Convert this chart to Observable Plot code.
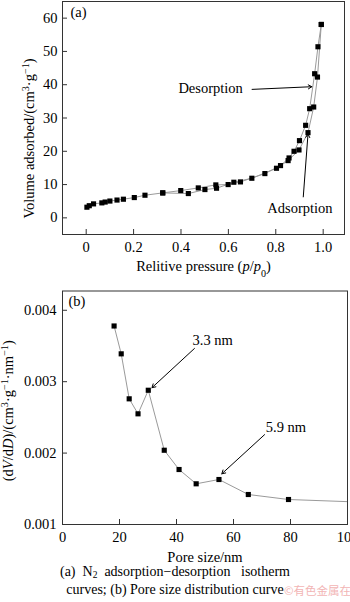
<!DOCTYPE html>
<html><head><meta charset="utf-8">
<script src="https://cdn.jsdelivr.net/npm/d3@7"></script>
<script src="https://cdn.jsdelivr.net/npm/@observablehq/plot@0.6"></script>
<style>
body{margin:0;background:#fff;width:350px;font-family:"Liberation Serif",serif;}
#wrap{position:relative;width:350px;}
#cap{font-size:14px;line-height:18px;text-align:center;white-space:pre;color:#000;margin-top:-1px;}
#cap sub{font-size:9.5px;vertical-align:-2px;line-height:0;}
#wm{position:absolute;left:284px;top:582px;font-family:"Noto Sans CJK SC",sans-serif;font-size:11.5px;color:#f2b5b5;white-space:nowrap;}
</style></head><body>
<div id="wrap"><div id="chart"></div>
<div id="cap">(a)  N<sub>2</sub>  adsorption−desorption   isotherm
curves; (b) Pore size distribution curve</div>
<div id="wm">©有色金属在线</div></div>
<script>
// ---- Panel (a): N2 adsorption-desorption isotherm ----
const adsP = [0.003,0.013,0.031,0.066,0.080,0.100,0.130,0.157,0.203,0.248,0.323,0.431,0.501,0.550,0.623,0.699,0.803,0.852,0.898,0.936,0.960,0.976,0.992];
const adsV = [3.2,3.65,4.2,4.5,4.75,5.05,5.35,5.6,6.1,6.8,7.5,7.3,8.5,8.9,10.7,11.9,14.9,17.2,20.4,25.6,33.3,42.3,58.1];
const desP = [0.323,0.399,0.473,0.547,0.599,0.651,0.754,0.820,0.856,0.877,0.900,0.926,0.943,0.964,0.978,0.992];
const desV = [7.5,8.2,9.0,9.9,10.0,10.8,13.3,15.7,18.0,20.0,23.2,27.8,32.8,43.3,51.4,58.1];
const pTicks = [0,0.2,0.4,0.6,0.8,1.0];
const vTicks = [0,10,20,30,40,50,60];
// ---- Panel (b): pore size distribution ----
const poreD = [18.1,20.6,23.4,26.5,30.1,35.7,40.9,46.9,54.9,65.2,79.3];
const poreY = [0.00378,0.00339,0.00276,0.00255,0.00288,0.00204,0.00177,0.00157,0.00163,0.00142,0.00135];
const tailD = [79.3,100];
const tailY = [0.00135,0.00132];
const dTicks = [0,20,40,60,80,100];
const yTicks = [0.001,0.002,0.003,0.004];
// annotations
const annA = [{t:"Desorption", x:0.525, y:39.0, x1:0.70, y1:38.6, x2:0.952, y2:39.4},
              {t:"Adsorption", x:0.902, y:3.0, x1:0.916, y1:6.3, x2:0.936, y2:25.2}];
const annB = [{t:"3.3 nm", x:52.7, y:0.003581, x1:46.3, y1:0.003465, x2:31.4, y2:0.002916},
              {t:"5.9 nm", x:78.4, y:0.002359, x1:70.9, y1:0.002258, x2:55.9, y2:0.001710}];

const ads = adsP.map((p,i)=>({p, v:adsV[i]}));
const des = desP.map((p,i)=>({p, v:desV[i]}));
const pore = poreD.map((d,i)=>({d, y:poreY[i]}));
const tail = tailD.map((d,i)=>({d, y:tailY[i]}));

const FONT = {fontFamily:"Liberation Serif", fontSize:"14.5px", color:"#000", background:"#fff", overflow:"visible"};
const frameC = "#333";

// panel a geometry
const aML=62, aMR=6, aMT=1, aMB=48, aH=282;
const aFW = 350-aML-aMR, aFH = aH-aMT-aMB;
const pa = Plot.plot({
  width:350, height:aH, marginTop:aMT, marginBottom:aMB, marginLeft:aML, marginRight:aMR,
  style:FONT,
  x:{domain:[-0.1,1.09]}, y:{domain:[-5,65]},
  marks:[
    Plot.axisX({ticks:pTicks, tickFormat:d=>d===0?"0":d.toFixed(1), tickSize:0, tickPadding:7, label:null}),
    Plot.axisY({ticks:vTicks, tickSize:0, tickPadding:5, label:null}),
    Plot.tickX(pTicks,{x:d=>d, insetTop:aFH-5, stroke:frameC}),
    Plot.tickY(vTicks,{y:d=>d, insetRight:aFW-5, stroke:frameC}),
    Plot.line(ads,{x:"p", y:"v", stroke:"#9a9a9a", strokeWidth:1}),
    Plot.line(des,{x:"p", y:"v", stroke:"#9a9a9a", strokeWidth:1}),
    Plot.dot(ads.concat(des),{x:"p", y:"v", symbol:"square", r:2.9, fill:"#000", stroke:"none"}),
    Plot.arrow(annA,{x1:"x1", y1:"y1", x2:"x2", y2:"y2", stroke:"#000", strokeWidth:1, headLength:6}),
    Plot.text(annA,{x:"x", y:"y", text:"t", fill:"#000"}),
    Plot.text(["(a)"],{frameAnchor:"top-left", dx:8, dy:5, textAnchor:"start", lineAnchor:"top"}),
    Plot.text(["YLABEL_A"],{frameAnchor:"left", dx:-33, dy:20.5, rotate:-90, textAnchor:"middle", lineAnchor:"middle"}),
    Plot.text(["XLABEL_A"],{frameAnchor:"bottom", dy:32, textAnchor:"middle", lineAnchor:"middle"}),
    Plot.frame({stroke:frameC})
  ]
});

const bML=62, bMR=3, bMT=8.5, bMB=40, bH=282;
const bFW = 350-bML-bMR, bFH = bH-bMT-bMB;
const pb = Plot.plot({
  width:350, height:bH, marginTop:bMT, marginBottom:bMB, marginLeft:bML, marginRight:bMR,
  style:FONT,
  x:{domain:[0,100]}, y:{domain:[0.001,0.00427]},
  marks:[
    Plot.axisX({ticks:dTicks, tickSize:0, tickPadding:7, label:null}),
    Plot.axisY({ticks:yTicks, tickFormat:d=>d.toFixed(3), tickSize:0, tickPadding:6, label:null}),
    Plot.tickX(dTicks,{x:d=>d, insetTop:bFH-5, stroke:frameC}),
    Plot.tickY(yTicks,{y:d=>d, insetRight:bFW-5, stroke:frameC}),
    Plot.line(pore,{x:"d", y:"y", stroke:"#9a9a9a", strokeWidth:1}),
    Plot.line(tail,{x:"d", y:"y", stroke:"#9a9a9a", strokeWidth:1}),
    Plot.dot(pore,{x:"d", y:"y", symbol:"square", r:2.9, fill:"#000", stroke:"none"}),
    Plot.arrow(annB,{x1:"x1", y1:"y1", x2:"x2", y2:"y2", stroke:"#000", strokeWidth:1, headLength:6}),
    Plot.text(annB,{x:"x", y:"y", text:"t", fill:"#000"}),
    Plot.text(["(b)"],{frameAnchor:"top-left", dx:6, dy:5, textAnchor:"start", lineAnchor:"top"}),
    Plot.text(["YLABEL_B"],{frameAnchor:"left", dx:-54, dy:3, rotate:-90, textAnchor:"middle", lineAnchor:"middle"}),
    Plot.text(["Pore size/nm"],{frameAnchor:"bottom", dy:33, textAnchor:"middle", lineAnchor:"middle"}),
    Plot.frame({stroke:frameC})
  ]
});

const sup = s => `<tspan baseline-shift="super" font-size="70%">${s}</tspan>`;
const sub = s => `<tspan baseline-shift="sub" font-size="70%">${s}</tspan>`;
const it = s => `<tspan font-style="italic">${s}</tspan>`;
function rep(svg, key, html){
  svg.querySelectorAll("text").forEach(t=>{ if(t.textContent===key) t.innerHTML = html; });
}
rep(pa,"YLABEL_A",`Volume adsorbed/(cm${sup("3")}·g${sup("−1")})`);
rep(pa,"XLABEL_A",`Relitive pressure (${it("p")}/${it("p")}${sub("0")})`);
rep(pb,"YLABEL_B",`(d${it("V")}/d${it("D")})/(cm${sup("3")}·g${sup("−1")}·nm${sup("−1")})`);

const c = document.getElementById("chart");
pa.style.display="block"; pb.style.display="block";
c.appendChild(pa); c.appendChild(pb);
</script>
</body></html>
